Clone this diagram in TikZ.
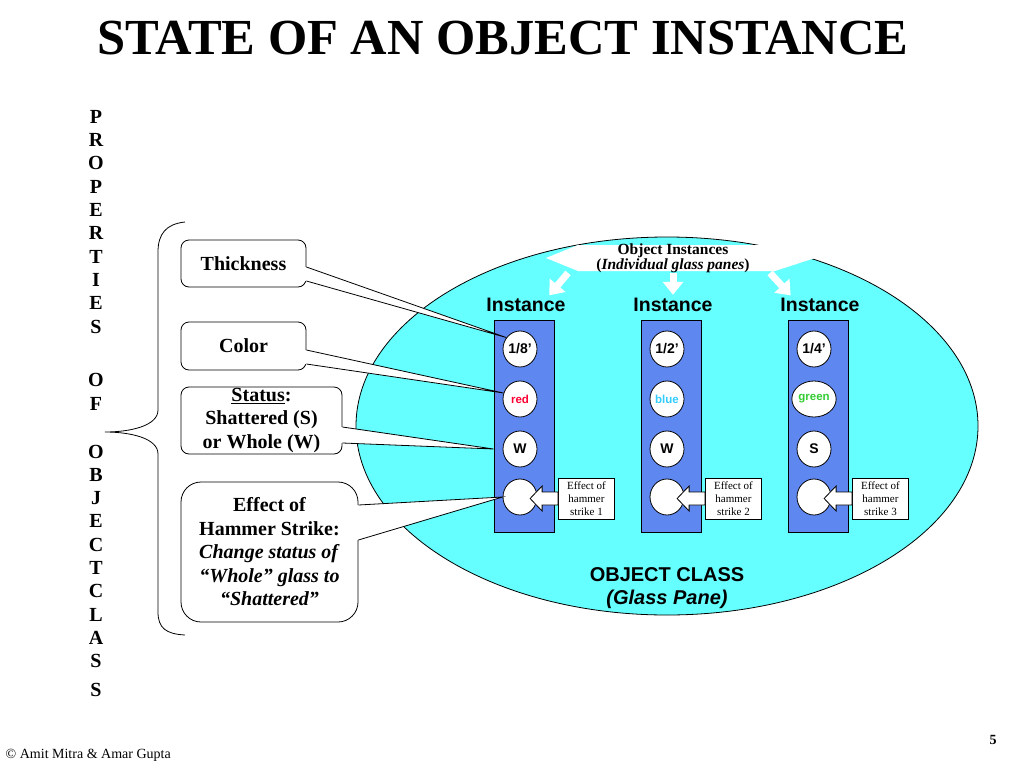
\documentclass[tikz,border=0pt]{standalone}
\usepackage{fontspec}
\setmainfont{Liberation Serif}
\newfontfamily\arialfont{Liberation Sans}
\usetikzlibrary{shapes.geometric,arrows.meta}
\definecolor{classfill}{RGB}{102,255,255}
\definecolor{panefill}{RGB}{95,135,240}
\definecolor{redtxt}{RGB}{255,0,51}
\definecolor{bluetxt}{RGB}{51,204,255}
\definecolor{greentxt}{RGB}{51,204,51}

\begin{document}
\begin{tikzpicture}[x=1pt, y=-1pt, line width=0.8pt,
  letter/.style={font=\bfseries\fontsize{20}{20}\selectfont, inner sep=0pt},
  propbox/.style={draw, fill=white, rounded corners=8pt, align=center, inner sep=0pt,
    font=\bfseries\fontsize{20}{23.5}\selectfont},
  panecol/.style={draw, fill=panefill, minimum width=60pt, minimum height=212pt, inner sep=0pt},
  instlabel/.style={font=\arialfont\bfseries\fontsize{19.5}{20}\selectfont, inner sep=1pt},
  valdot/.style={ellipse, draw, fill=white, minimum width=34pt, minimum height=36pt, inner sep=0pt,
    font=\arialfont\bfseries\fontsize{14}{14}\selectfont},
  effectbox/.style={draw, fill=white, minimum width=56pt, minimum height=41pt, inner sep=0pt,
    align=center, font=\fontsize{11}{13}\selectfont},
  blockarrow/.style={draw, fill=white, line join=miter},
  fatarrow/.style={white, line width=7pt, -{Triangle[length=13pt, width=20pt]}, shorten >=2pt}
]
  \useasboundingbox (0,0) rectangle (1024,768);

  \node[font=\bfseries\fontsize{50.5}{50}\selectfont] (title) at (503,38) {STATE OF AN OBJECT INSTANCE};

  % vertical caption and the brace
  \foreach \ch/\yy in {P/117,R/140,O/163,P/187,E/210,R/233,T/257,I/280,E/303,S/327,
      O/380,F/404,O/452,B/475,J/498,E/521,C/545,T/568,C/591,L/615,A/638,S/661,S/690}
    \node[letter] (l\yy) at (96,\yy) {\ch};
  \draw (185,222) .. controls (166,224) and (158,234) .. (158,252) -- (158,410)
    .. controls (158,426) and (130,432) .. (105,432)
    .. controls (130,432) and (158,438) .. (158,454) -- (158,612)
    .. controls (158,628) and (166,634) .. (185,635);

  % the class
  \node[ellipse, draw, fill=classfill, minimum width=622pt, minimum height=378pt, inner sep=0pt] (cls) at (667,426) {};
  \node[font=\arialfont\bfseries\fontsize{20}{23}\selectfont, align=center] (clsname) at (667,588)
    {OBJECT CLASS\\\textit{(Glass Pane)}};

  \fill[white] (546,258) -- (578,245) -- (795,245) -- (815,258) -- (775,271) -- (578,271) -- cycle;
  \node[font=\bfseries\fontsize{15.5}{14}\selectfont, align=center, inner sep=0pt] (oi) at (673,258)
    {Object Instances\\(\textit{Individual glass panes})};

  % the three instances
  \foreach \i/\xx/\thk/\clr/\cname/\st in {1/520/{1/8’}/redtxt/red/W,
      2/667/{1/2’}/bluetxt/blue/W, 3/814/{1/4’}/greentxt/green/S} {
    \node[panecol] (col\i) at (\xx+4,426) {};
    \node[instlabel] (inst\i) at (\xx+6,305) {Instance};
    \node[valdot] (c\i1) at (\xx,349) {\thk};
    \node[valdot, text=\clr, font=\arialfont\bfseries\fontsize{11.5}{12}\selectfont] (c\i2) at (\xx,399) {\cname};
    \node[valdot] (c\i3) at (\xx,449) {\st};
    \node[valdot] (c\i4) at (\xx,497) {};
    \node[effectbox] (e\i) at (\xx+66.5,498.5) {Effect of\\hammer\\strike \i};
    \draw[blockarrow] ([yshift=6.5pt]e\i.west) -- ++(-16,0) -- ++(0,-6) -- ++(-12,12.5)
      -- ++(12,12.5) -- ++(0,-6) -- ++(16,0) -- cycle;
  }

  \draw[fatarrow] ([xshift=-105pt]oi.south) -- ([xshift=22pt]inst1.north);
  \draw[fatarrow] (oi.south) -- (inst2.north);
  \draw[fatarrow] ([xshift=97pt]oi.south) -- ([xshift=-28pt]inst3.north);

  % properties
  \node[propbox, minimum width=125pt, minimum height=47pt] (thick) at (243.5,263.5) {Thickness};
  \node[propbox, minimum width=125pt, minimum height=48pt] (color) at (243.5,346) {Color};
  \node[propbox, minimum width=161pt, minimum height=67pt] (status) at (261.5,420.5)
    {\underline{Status}:\\Shattered (S)\\or Whole (W)};
  \node[propbox, rounded corners=20pt, minimum width=177pt, minimum height=140pt] (effect) at (269.5,552)
    {Effect of\\Hammer Strike:\\\textit{Change status of}\\\textit{“Whole” glass to}\\\textit{“Shattered”}};

  \foreach \bx/\tip/\ya/\yb in {thick/c11.140/-3.5/-17.5, color/c12.160/-4/-18,
      status/{col1.west |- c13.center}/-6.5/-22.5, effect/c14.west/47/12} {
    \fill[white] ([xshift=-1.2pt,yshift=\ya pt]\bx.east) -- (\tip) -- ([xshift=-1.2pt,yshift=\yb pt]\bx.east) -- cycle;
    \draw ([yshift=\ya pt]\bx.east) -- (\tip) -- ([yshift=\yb pt]\bx.east);
  }

  \node[anchor=west, font=\fontsize{14}{14}\selectfont] (credit) at (2,755) {© Amit Mitra \& Amar Gupta};
  \node[font=\bfseries\fontsize{14}{14}\selectfont] (pgnum) at (993,740) {5};
\end{tikzpicture}
\end{document}
